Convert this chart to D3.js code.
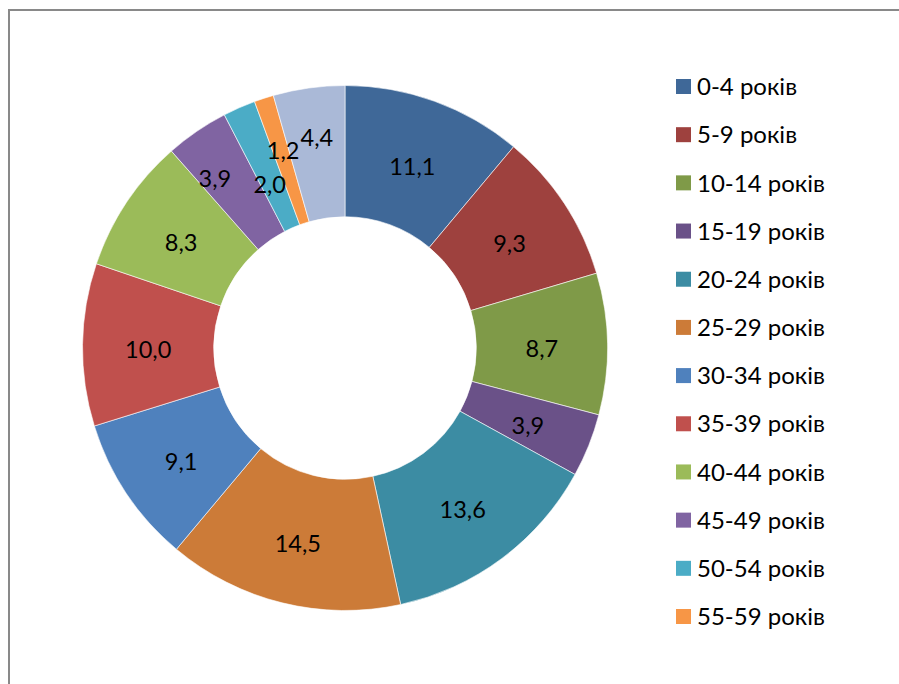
<!DOCTYPE html>
<html>
<head>
<meta charset="utf-8">
<script src="https://cdn.jsdelivr.net/npm/d3@7"></script>
<style>
  html, body { margin: 0; padding: 0; background: #ffffff; }
  svg { display: block; }
</style>
</head>
<body>
<svg id="chart" width="899" height="684"></svg>
<script>
// ---- data ----
const categories = ["0-4 років", "5-9 років", "10-14 років", "15-19 років", "20-24 років",
  "25-29 років", "30-34 років", "35-39 років", "40-44 років", "45-49 років",
  "50-54 років", "55-59 років", "60 років і старше"];
const values = [11.1, 9.3, 8.7, 3.9, 13.6, 14.5, 9.1, 10.0, 8.3, 3.9, 2.0, 1.2, 4.4];
const colors = ["#3F6898", "#9E413E", "#7F9A48", "#6A5188", "#3C8CA3", "#CC7B38",
  "#4F81BD", "#C0504D", "#9BBB59", "#8064A2", "#4BACC6", "#F79646", "#AAB9D7"];
const legendCount = 12; // the last entry does not fit in the legend box

// ---- layout ----
const W = 899, H = 684;
const cx = 345, cy = 348, rOuter = 262.5, rInner = 131.25;
const fontFamily = "Lato, 'Open Sans', sans-serif";
const fmt = v => d3.format(".1f")(v).replace(".", ",");

const svg = d3.select("#chart");

// chart area frame (extends past the right and bottom edges)
svg.append("rect")
  .attr("x", 9).attr("y", 10)
  .attr("width", W + 20).attr("height", H + 20)
  .attr("fill", "#ffffff")
  .attr("stroke", "#898989")
  .attr("stroke-width", 2);

const color = d3.scaleOrdinal().domain(categories).range(colors);

const pie = d3.pie().sort(null).value(d => d.value);
const data = categories.map((c, i) => ({ name: c, value: values[i] }));
const arcs = pie(data);

const arc = d3.arc().innerRadius(rInner).outerRadius(rOuter);
const labelArc = d3.arc().innerRadius((rInner + rOuter) / 2).outerRadius((rInner + rOuter) / 2);

const g = svg.append("g").attr("transform", `translate(${cx},${cy})`);

g.selectAll("path.slice")
  .data(arcs)
  .join("path")
  .attr("class", "slice")
  .attr("d", arc)
  .attr("fill", d => color(d.data.name))
  .attr("stroke", "#ffffff")
  .attr("stroke-width", 0.6);

// small label nudges where the original moved overlapping labels
const nudge = { 9: [-19, -11], 10: [4, 13], 11: [-1, -14], 12: [-1, -19] };

g.selectAll("text.lbl")
  .data(arcs)
  .join("text")
  .attr("class", "lbl")
  .attr("x", (d, i) => labelArc.centroid(d)[0] + (nudge[i] ? nudge[i][0] : 0))
  .attr("y", (d, i) => labelArc.centroid(d)[1] + 4 + (nudge[i] ? nudge[i][1] : 0))
  .attr("dy", "0.36em")
  .attr("text-anchor", "middle")
  .attr("font-family", fontFamily)
  .attr("font-size", 23.5)
  .attr("fill", "#000000")
  .text(d => fmt(d.data.value));

// legend
const legendY = d3.scalePoint()
  .domain(categories.slice(0, legendCount))
  .range([86.5, 616.5]);

const lg = svg.append("g");
const items = lg.selectAll("g.item")
  .data(categories.slice(0, legendCount))
  .join("g")
  .attr("class", "item")
  .attr("transform", d => `translate(676,${legendY(d)})`);

items.append("rect")
  .attr("x", 0).attr("y", -7.5)
  .attr("width", 15).attr("height", 15)
  .attr("fill", d => color(d));

items.append("text")
  .attr("x", 21).attr("y", 0)
  .attr("dy", "0.36em")
  .attr("font-family", fontFamily)
  .attr("font-size", 24)
  .attr("fill", "#000000")
  .text(d => d);
</script>
</body>
</html>
